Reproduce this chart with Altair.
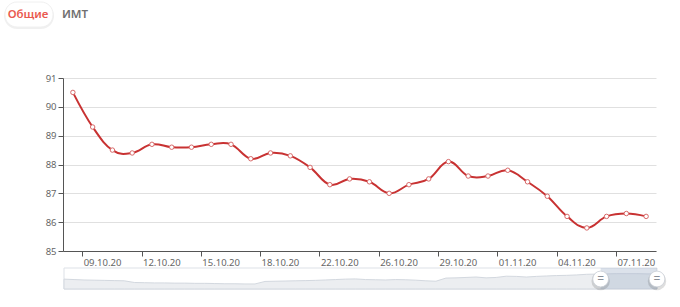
import altair as alt
import pandas as pd

# ---- data ----
dates = ["08.10.20", "09.10.20", "10.10.20", "11.10.20", "12.10.20", "13.10.20",
         "14.10.20", "15.10.20", "16.10.20", "17.10.20", "18.10.20", "19.10.20",
         "20.10.20", "22.10.20", "23.10.20", "24.10.20", "26.10.20", "27.10.20",
         "28.10.20", "29.10.20", "30.10.20", "31.10.20", "01.11.20", "02.11.20",
         "03.11.20", "04.11.20", "05.11.20", "06.11.20", "07.11.20", "08.11.20"]
values = [90.5, 89.3, 88.5, 88.4, 88.7, 88.6, 88.6, 88.7, 88.7, 88.2,
          88.4, 88.3, 87.9, 87.3, 87.5, 87.4, 87.0, 87.3, 87.5, 88.1,
          87.6, 87.6, 87.8, 87.4, 86.9, 86.2, 85.8, 86.2, 86.3, 86.2]
tick_labels = ["09.10.20", "12.10.20", "15.10.20", "18.10.20", "22.10.20",
               "26.10.20", "29.10.20", "01.11.20", "04.11.20", "07.11.20"]
y_ticks = [85, 86, 87, 88, 89, 90, 91]
buttons = ["Общие", "ИМТ"]

# data-zoom slider: overview shadow (relative level) and selected window (percent)
shadow = [0.47, 0.45, 0.43, 0.42, 0.41, 0.40, 0.39, 0.31, 0.30, 0.29,
          0.29, 0.28, 0.28, 0.27, 0.27, 0.26, 0.25, 0.25, 0.24, 0.24,
          0.36, 0.37, 0.38, 0.39, 0.40, 0.41, 0.43, 0.45, 0.47, 0.48,
          0.45, 0.44, 0.43, 0.45, 0.44, 0.42, 0.39, 0.37, 0.52, 0.53,
          0.55, 0.57, 0.53, 0.55, 0.61, 0.60, 0.57, 0.60, 0.62, 0.64,
          0.65, 0.67, 0.70, 0.71, 0.72, 0.73, 0.73, 0.73, 0.72, 0.72]
window_start = 90.5
window_end = 100.0

main_df = pd.DataFrame({"date": dates, "value": values})
n = len(shadow)
shadow_df = pd.DataFrame({"pos": [i * 100.0 / (n - 1) for i in range(n)], "level": shadow})
window_df = pd.DataFrame({"start": [window_start], "end": [window_end]})
handle_df = pd.DataFrame({"pos": [window_start, window_end]})
one = pd.DataFrame({"k": [0]})

LINE = "#c83232"
FONT = "Noto Sans"

# ---- main chart ----
x_enc = alt.X("date:O", sort=None,
              scale=alt.Scale(type="band", paddingInner=0, paddingOuter=0),
              axis=alt.Axis(values=tick_labels, bandPosition=0, labelOffset=9.88,
                            labelAngle=0, title=None, grid=False, tickSize=5,
                            tickColor="#555", domainColor="#555", labelColor="#666",
                            labelFontSize=9.5, labelFont=FONT, labelPadding=1))
y_enc = alt.Y("value:Q", scale=alt.Scale(domain=[85, 91], nice=False, zero=False),
              axis=alt.Axis(values=y_ticks, title=None, grid=True, gridColor="#e0e0e0",
                            tickSize=5, tickColor="#555", domainColor="#555",
                            labelColor="#666", labelFontSize=9.5, labelFont=FONT,
                            labelPadding=2))

line = alt.Chart(main_df).mark_line(color=LINE, strokeWidth=2, interpolate="cardinal",
                                    tension=-0.2).encode(x=x_enc, y=y_enc)
pts = alt.Chart(main_df).mark_point(shape="circle", filled=True, fill="white",
                                    stroke="#d86a6a", strokeWidth=1, size=20,
                                    opacity=1).encode(x=x_enc, y=y_enc)
main = alt.layer(line, pts)

# ---- slider ----
sx = alt.Scale(domain=[0, 100], range=[1, 594], nice=False)
sy = alt.Scale(domain=[0, 1], range=[211, 190], nice=False)

s_box = alt.Chart(one).mark_rect(fill="white", stroke="#dde1e7", strokeWidth=1).encode(
    x=alt.value(1), x2=alt.value(594), y=alt.value(190), y2=alt.value(211))
s_area = alt.Chart(shadow_df).mark_area(fill="#eceef1", stroke="#d3d8df", strokeWidth=1,
                                        interpolate="linear").encode(
    x=alt.X("pos:Q", scale=sx, axis=None),
    y=alt.Y("level:Q", scale=sy, axis=None))
s_win = alt.Chart(window_df).mark_rect(fill="#a7b7cc", opacity=0.4).encode(
    x=alt.X("start:Q", scale=sx, axis=None), x2="end:Q",
    y=alt.value(190), y2=alt.value(211))
s_hshadow = alt.Chart(handle_df).mark_point(shape="circle", filled=True, fill="#000",
                                            opacity=0.13, size=340).encode(
    x=alt.X("pos:Q", scale=sx, axis=None), y=alt.value(203))
s_handle = alt.Chart(handle_df).mark_point(shape="circle", filled=True, fill="white",
                                           stroke="#c9ced6", strokeWidth=0.8,
                                           opacity=1, size=250).encode(
    x=alt.X("pos:Q", scale=sx, axis=None), y=alt.value(201))
s_icon = alt.Chart(handle_df).mark_text(text="=", fontSize=12, color="#8a8f98",
                                        font=FONT, baseline="middle").encode(
    x=alt.X("pos:Q", scale=sx, axis=None), y=alt.value(200.5))
slider = alt.layer(s_box, s_area, s_win, s_hshadow, s_handle, s_icon)

# ---- buttons ----
b_shadow = alt.Chart(one).mark_rect(fill="#000", opacity=0.06, cornerRadius=13).encode(
    x=alt.value(-59), x2=alt.value(-9), y=alt.value(-75), y2=alt.value(-49))
b_pill = alt.Chart(one).mark_rect(fill="white", stroke="#f0f0f0", cornerRadius=12).encode(
    x=alt.value(-58), x2=alt.value(-10), y=alt.value(-76), y2=alt.value(-51))
b_t1 = alt.Chart(one).mark_text(text=buttons[0], fontSize=11.5, fontWeight=600,
                                color="#ea5a50", font=FONT, baseline="middle").encode(
    x=alt.value(-35), y=alt.value(-63))
b_t2 = alt.Chart(one).mark_text(text=buttons[1], fontSize=11.5, fontWeight=600,
                                color="#707070", font=FONT, baseline="middle").encode(
    x=alt.value(12), y=alt.value(-63))
btns = alt.layer(b_shadow, b_pill, b_t1, b_t2)

chart = alt.layer(btns, slider, main).resolve_scale(
    x="independent", y="independent"
).properties(
    width=593, height=173,
    autosize=alt.AutoSizeParams(type="none"),
    padding={"left": 63, "top": 78, "right": 24, "bottom": 56},
    background="white",
).configure_view(stroke=None)

chart.save("out.html", embed_options={"renderer": "svg", "actions": False})
